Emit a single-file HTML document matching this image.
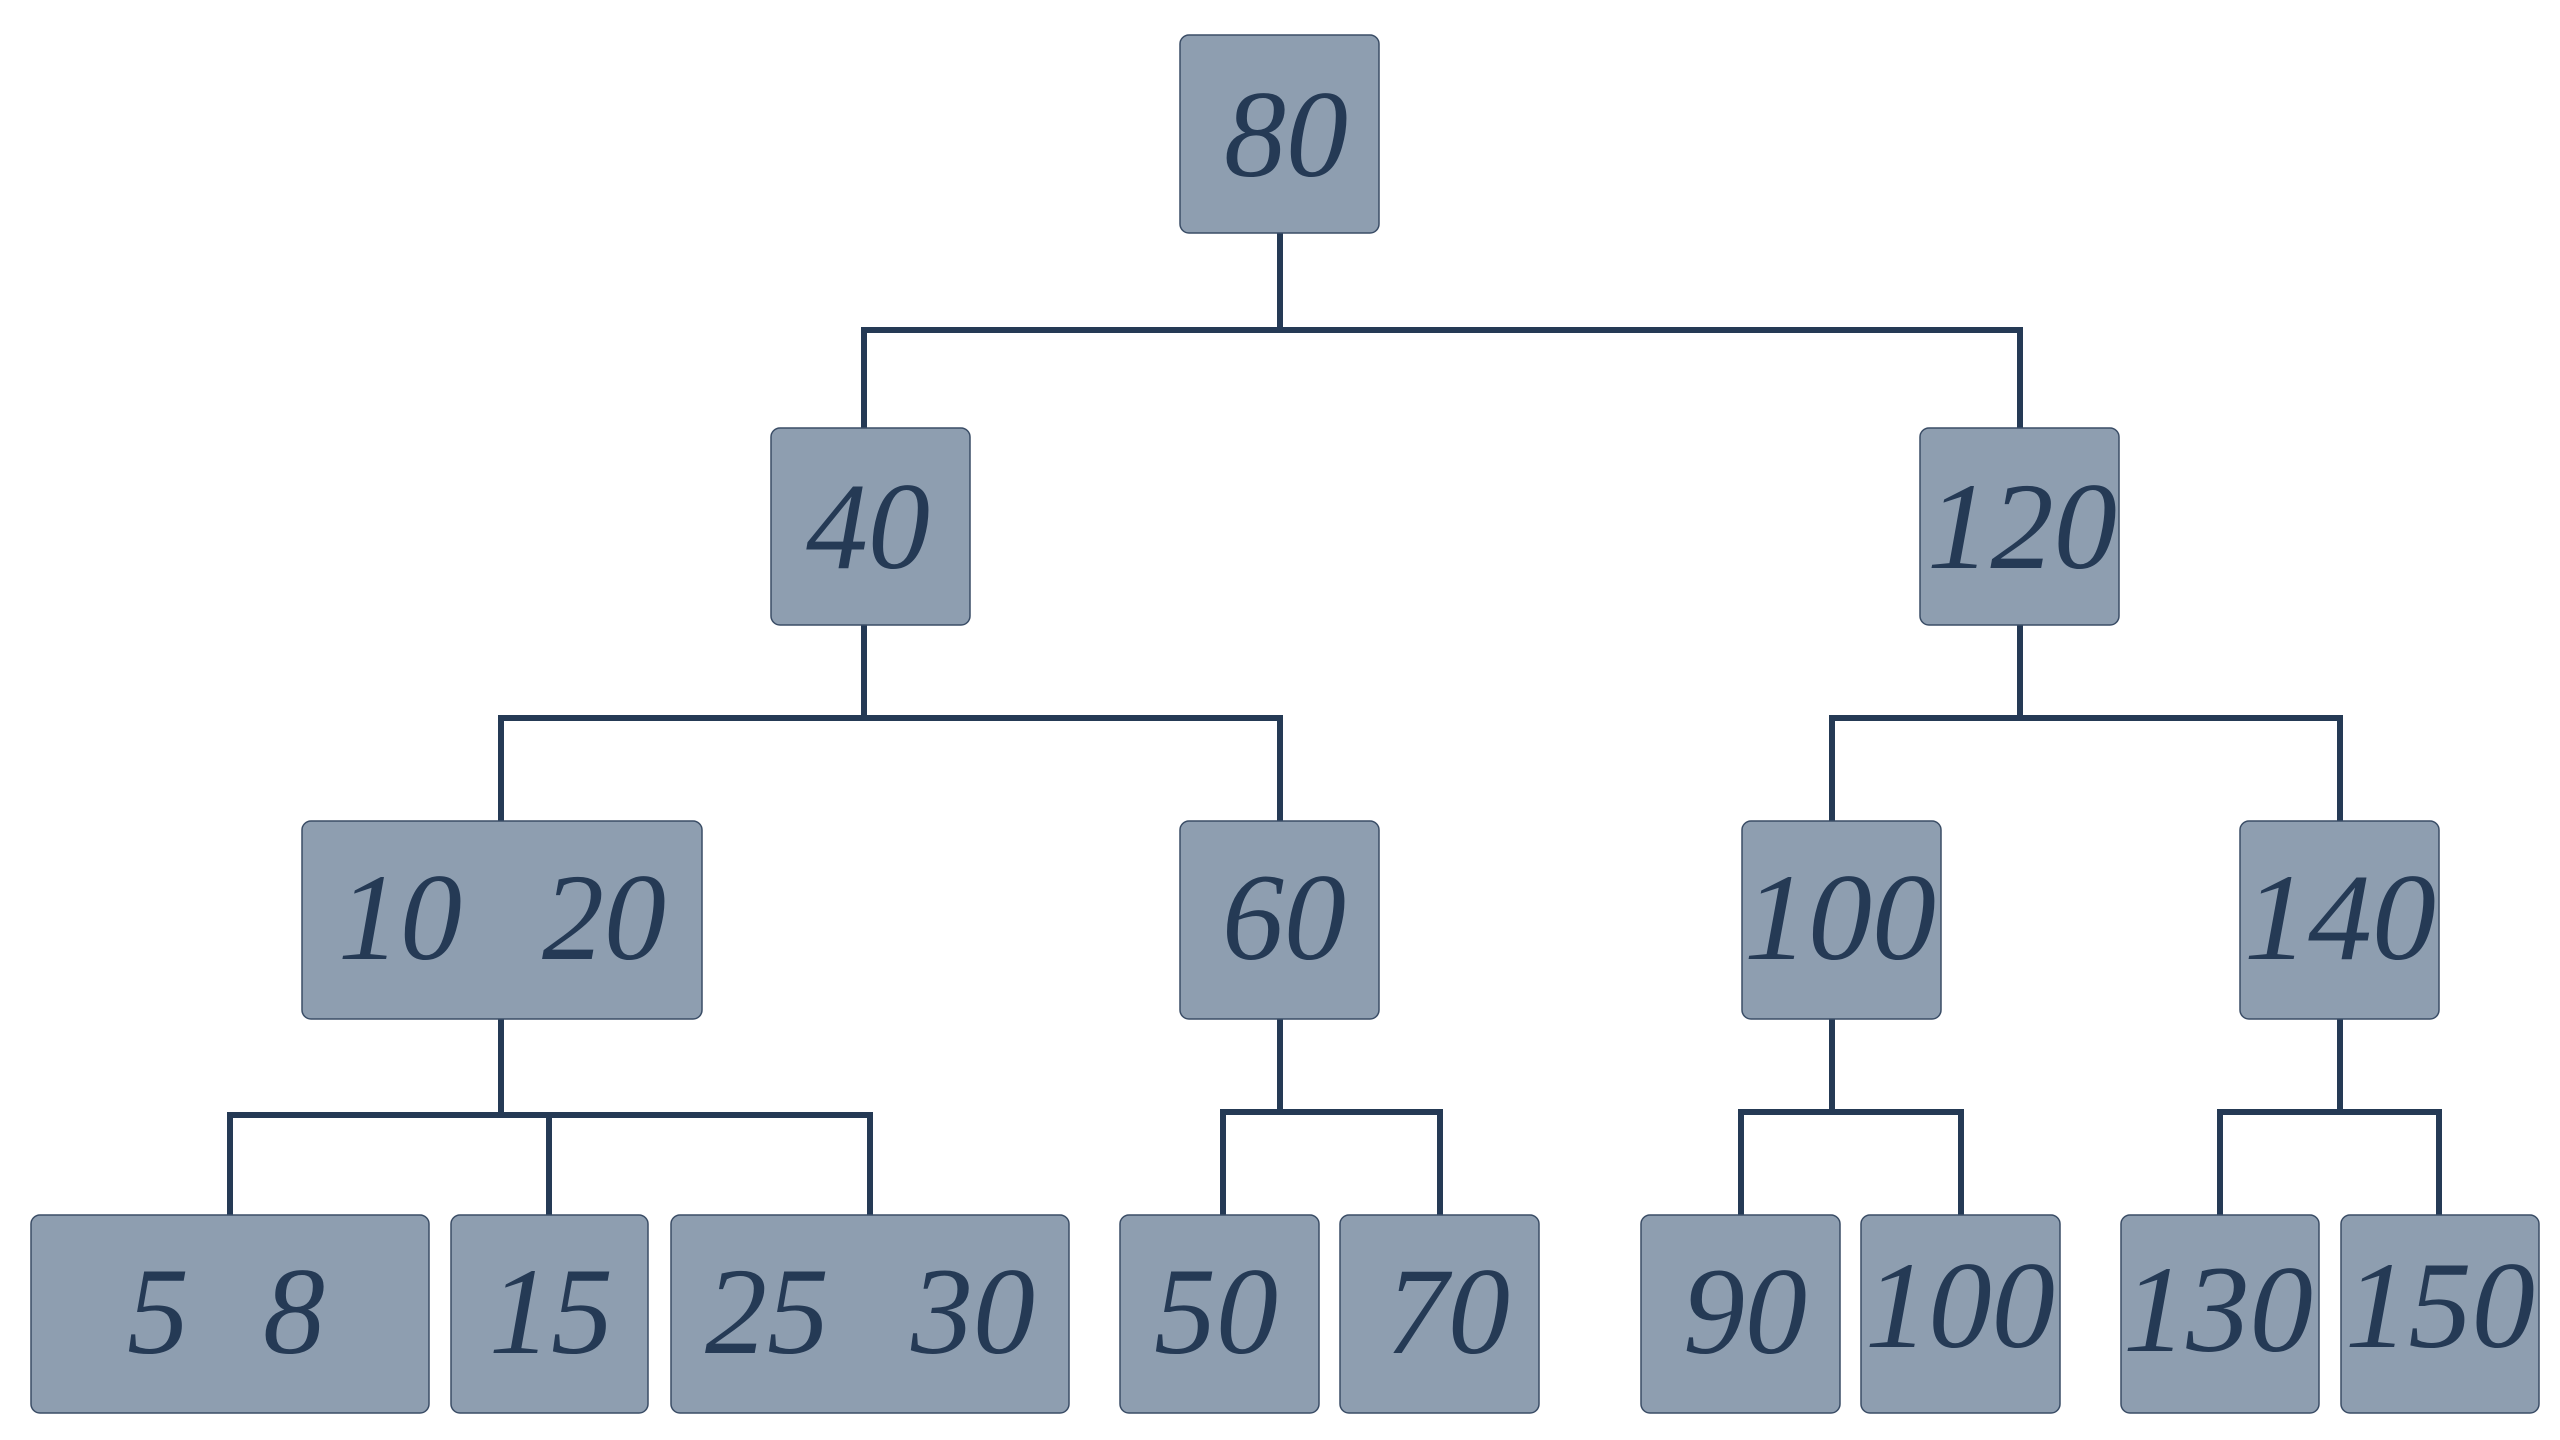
<!DOCTYPE html>
<html><head><style>html,body{margin:0;padding:0;background:#fff}svg{display:block}</style></head>
<body>
<svg width="2560" height="1440" viewBox="0 0 2560 1440" xmlns="http://www.w3.org/2000/svg">
<g fill="none" stroke="#253a55" stroke-width="6" stroke-linecap="square">
<path d="M1280 233V330M864 330H2020M864 330V428M2020 330V428"/>
<path d="M864 625V718M501 718H1280M501 718V821M1280 718V821"/>
<path d="M2020 625V718M1832 718H2340M1832 718V821M2340 718V821"/>
<path d="M501 1019V1115M230 1115H870M230 1115V1215M549 1115V1215M870 1115V1215"/>
<path d="M1280 1019V1112M1223 1112H1440M1223 1112V1215M1440 1112V1215"/>
<path d="M1832 1019V1112M1741 1112H1961M1741 1112V1215M1961 1112V1215"/>
<path d="M2340 1019V1112M2220 1112H2439M2220 1112V1215M2439 1112V1215"/>
</g>
<g fill="#8e9eb0" stroke="#3a4d66" stroke-width="1.5">
<rect x="1180" y="35" width="199" height="198" rx="9"/>
<rect x="771" y="428" width="199" height="197" rx="9"/>
<rect x="1920" y="428" width="199" height="197" rx="9"/>
<rect x="302" y="821" width="400" height="198" rx="9"/>
<rect x="1180" y="821" width="199" height="198" rx="9"/>
<rect x="1742" y="821" width="199" height="198" rx="9"/>
<rect x="2240" y="821" width="199" height="198" rx="9"/>
<rect x="31" y="1215" width="398" height="198" rx="9"/>
<rect x="451" y="1215" width="197" height="198" rx="9"/>
<rect x="671" y="1215" width="398" height="198" rx="9"/>
<rect x="1120" y="1215" width="199" height="198" rx="9"/>
<rect x="1340" y="1215" width="199" height="198" rx="9"/>
<rect x="1641" y="1215" width="199" height="198" rx="9"/>
<rect x="1861" y="1215" width="199" height="198" rx="9"/>
<rect x="2121" y="1215" width="198" height="198" rx="9"/>
<rect x="2341" y="1215" width="198" height="198" rx="9"/>
</g>
<g fill="#253a55" font-family="'Liberation Serif', serif" font-style="italic" font-size="124" text-anchor="middle">
<text x="1286" y="176">80</text>
<text x="868" y="568">40</text>
<text x="2022" y="568" textLength="190" lengthAdjust="spacingAndGlyphs">120</text>
<text x="400" y="959">10</text>
<text x="604" y="959">20</text>
<text x="1284" y="959">60</text>
<text x="1840" y="959" textLength="192" lengthAdjust="spacingAndGlyphs">100</text>
<text x="2340" y="959" textLength="192" lengthAdjust="spacingAndGlyphs">140</text>
<text x="158" y="1353">5</text>
<text x="294" y="1353">8</text>
<text x="551" y="1353">15</text>
<text x="767" y="1353">25</text>
<text x="973" y="1353">30</text>
<text x="1216" y="1353">50</text>
<text x="1448" y="1353">70</text>
<text x="1745" y="1353">90</text>
<text x="1960" y="1347" textLength="190" lengthAdjust="spacingAndGlyphs">100</text>
<text x="2218" y="1351" textLength="190" lengthAdjust="spacingAndGlyphs">130</text>
<text x="2440" y="1347" textLength="190" lengthAdjust="spacingAndGlyphs">150</text>
</g>
</svg>
</body></html>
